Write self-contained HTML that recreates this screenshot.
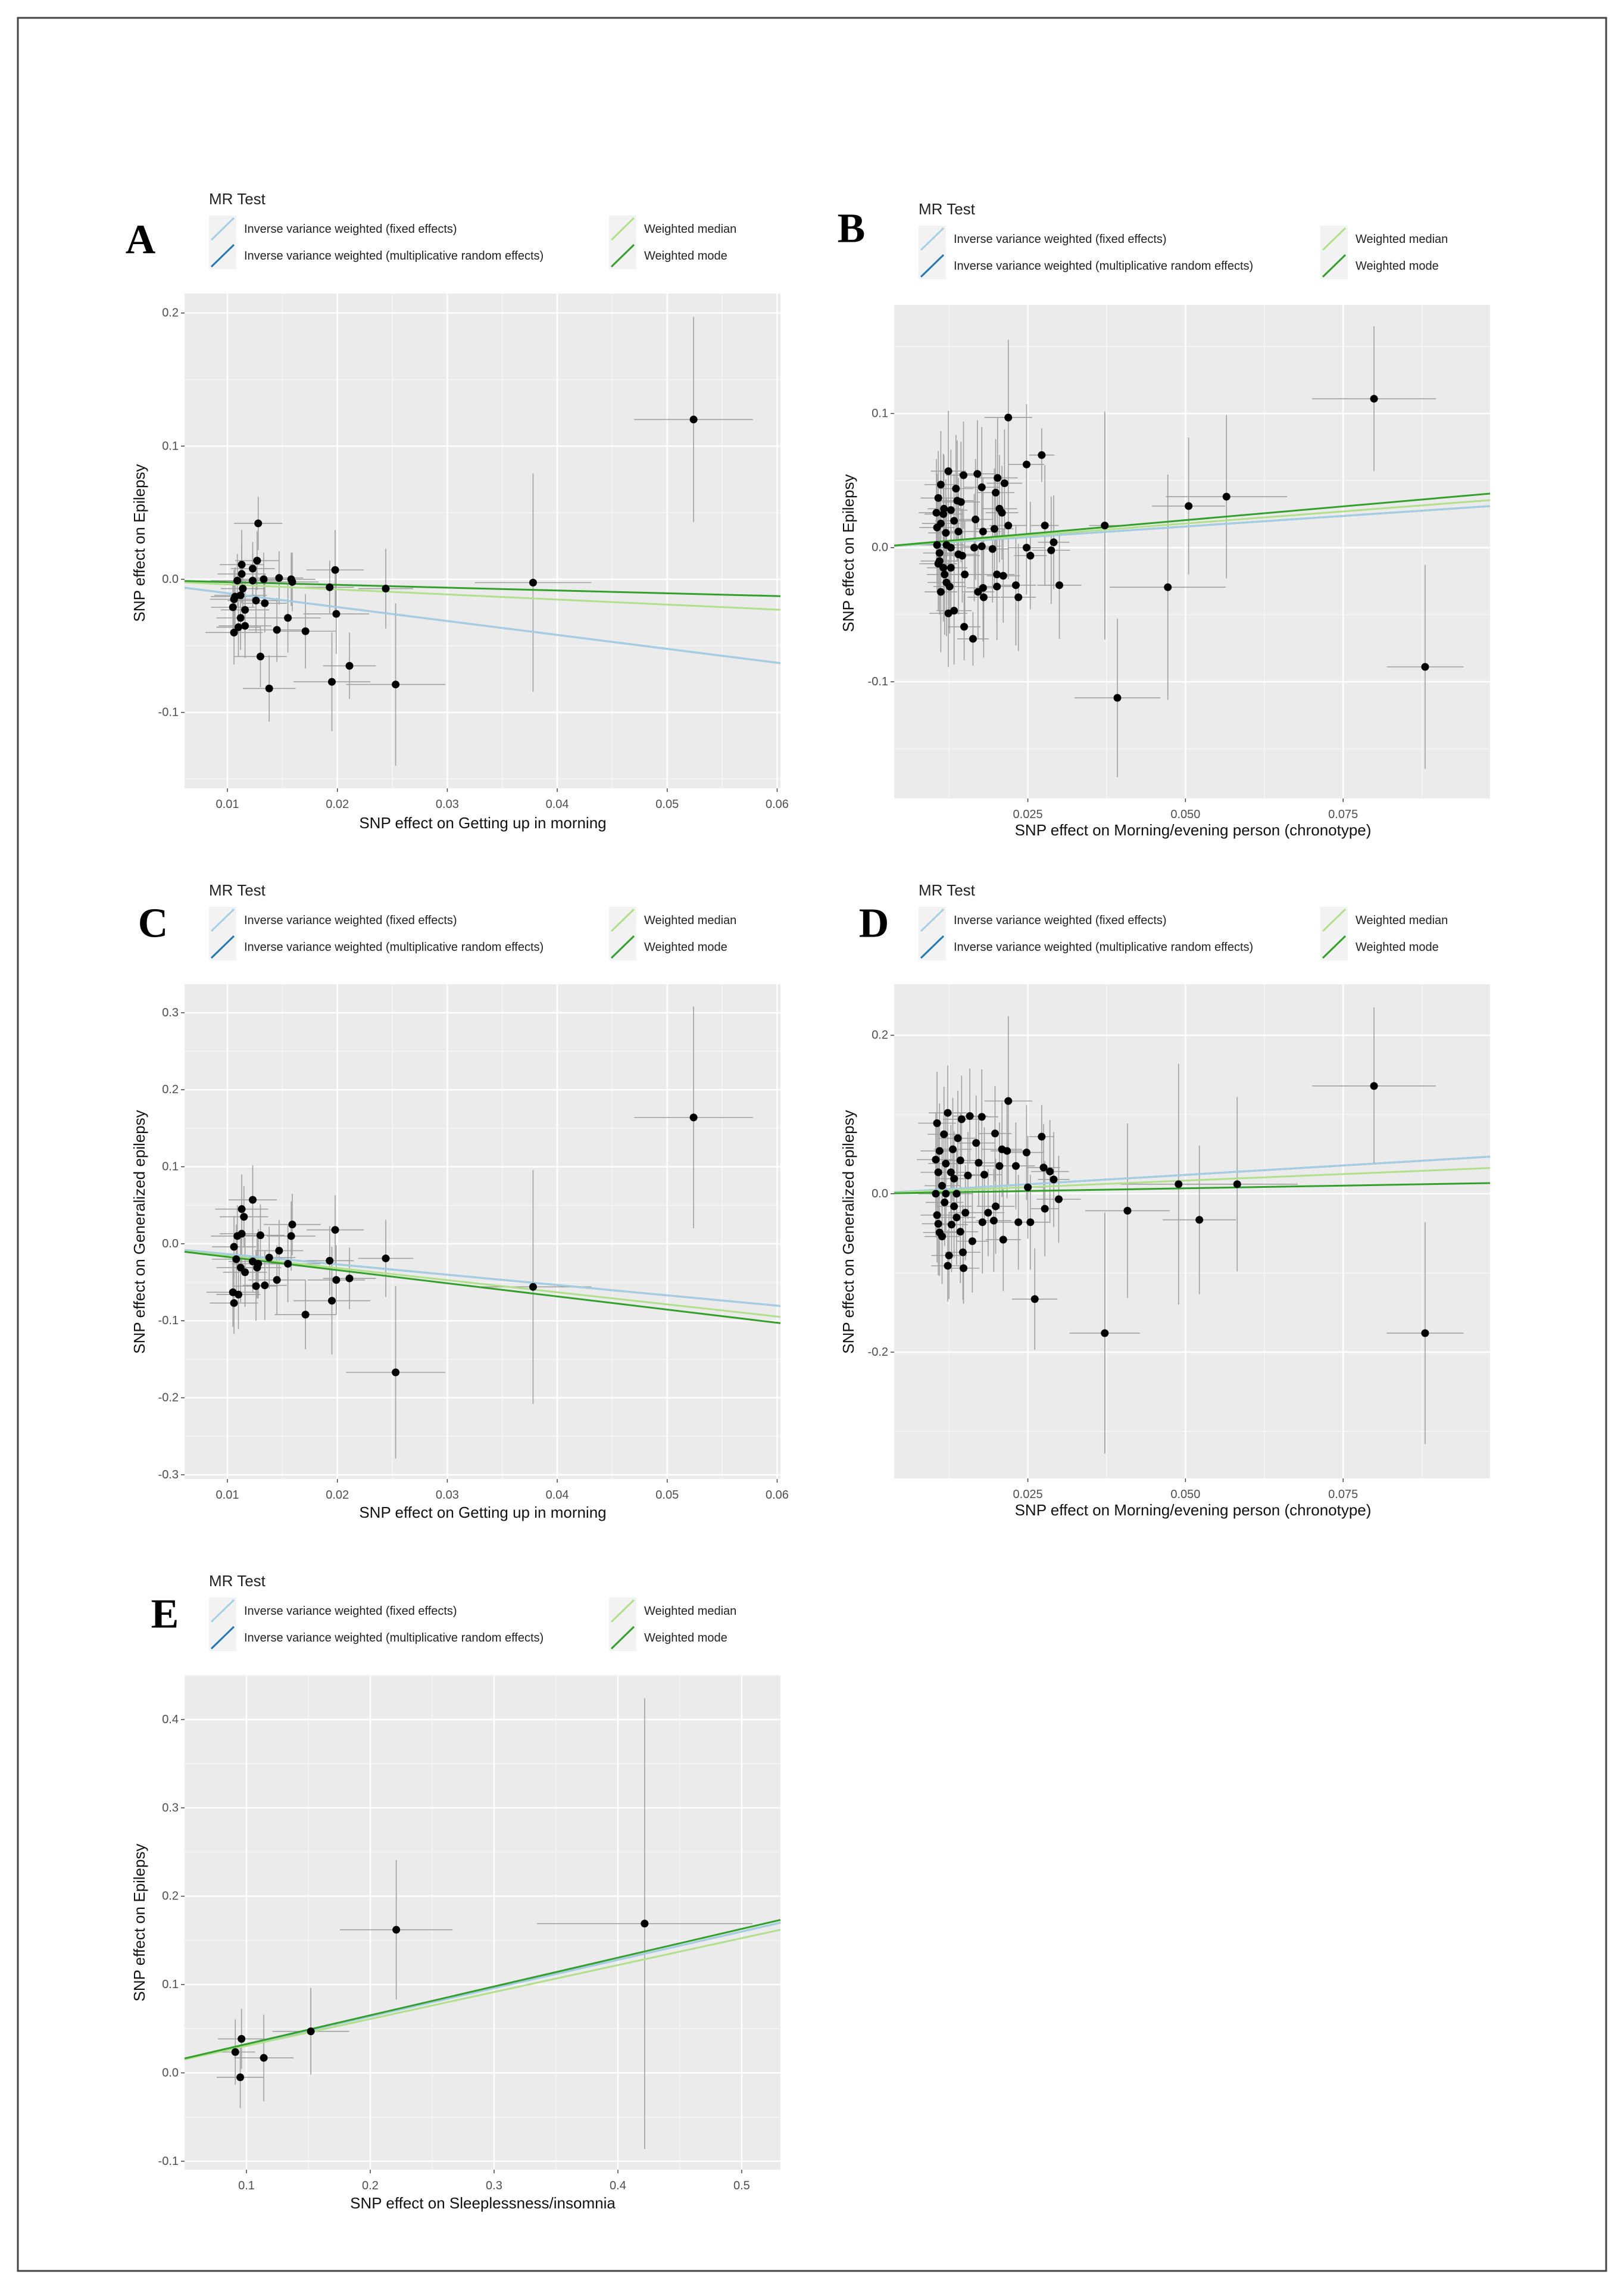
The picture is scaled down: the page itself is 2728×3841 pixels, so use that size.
<!DOCTYPE html>
<html><head><meta charset="utf-8"><title>MR scatter plots</title>
<style>
html,body{margin:0;padding:0;background:#fff;}
svg{display:block;}
text{font-family:"Liberation Sans",Arial,sans-serif;}
</style></head>
<body>
<svg id="fig" width="2728" height="3841" viewBox="0 0 2728 3841" xmlns="http://www.w3.org/2000/svg">
<rect x="0" y="0" width="2728" height="3841" fill="#fff"/>
<rect x="30" y="30" width="2668" height="3784" fill="none" stroke="#444" stroke-width="3"/>
</svg>
<script>
// ---------- Panel A data ----------
const aX=[0.0524,0.0378,0.0253,0.0244,0.0211,0.0195,0.0199,0.0198,0.0193,0.0171,0.0159,0.0158,0.0155,0.0147,0.0145,0.0138,0.0134,0.0133,0.0130,0.0128,0.0127,0.0126,0.0123,0.0123,0.0116,0.0116,0.0113,0.0113,0.0114,0.0112,0.0112,0.0110,0.0109,0.0107,0.0106,0.0105,0.0106];
const aY=[0.120,-0.0025,-0.079,-0.007,-0.065,-0.077,-0.026,0.007,-0.006,-0.039,-0.002,0.000,-0.029,0.001,-0.038,-0.082,-0.018,0.000,-0.058,0.042,0.014,-0.016,-0.001,0.008,-0.023,-0.035,0.011,0.004,-0.007,-0.012,-0.029,-0.036,-0.001,-0.013,-0.040,-0.021,-0.015];
const aXe=[0.0054,0.0053,0.0045,0.0025,0.0024,0.0035,0.003,0.0026,0.0022,0.0028,0.0024,0.0022,0.0030,0.0022,0.0026,0.0024,0.0020,0.0022,0.0024,0.0022,0.0020,0.0026,0.0022,0.0020,0.0022,0.0024,0.0020,0.0022,0.0020,0.0024,0.0022,0.0020,0.0024,0.0022,0.0026,0.0020,0.0022];
const aYe=[0.077,0.082,0.061,0.030,0.025,0.037,0.030,0.030,0.020,0.028,0.022,0.020,0.026,0.020,0.024,0.025,0.022,0.020,0.023,0.020,0.022,0.024,0.020,0.020,0.022,0.024,0.026,0.022,0.020,0.022,0.024,0.022,0.020,0.022,0.024,0.020,0.022];
const aSlopes=[-1.045,-1.045,-0.38,-0.21];
const aXTicks=[0.01,0.02,0.03,0.04,0.05,0.06];
const aXTickLabels=["0.01","0.02","0.03","0.04","0.05","0.06"];
const aYTicks=[-0.1,0.0,0.1,0.2];
const aYTickLabels=["-0.1","0.0","0.1","0.2"];

// ---------- Panel B data ----------
const bX=[0.0799,0.0880,0.0392,0.0472,0.0505,0.0565,0.0372,0.0219,0.0272,0.0248,0.0300,0.0291,0.0287,0.0277,0.0254,0.0248,0.0235,0.0231,0.0219,0.0211,0.0213,0.0202,0.0199,0.0209,0.0205,0.0197,0.0194,0.0201,0.0201,0.0180,0.0179,0.0177,0.0179,0.0177,0.0170,0.0171,0.0163,0.0167,0.0165,0.0149,0.0148,0.0144,0.0150,0.0146,0.0140,0.0138,0.0136,0.0133,0.0128,0.0124,0.0124,0.0126,0.0120,0.0116,0.0112,0.0108,0.0110,0.0112,0.0106,0.0106,0.0110,0.0118,0.0121,0.0128,0.0133,0.0140,0.0117,0.0121,0.0112,0.0128,0.0105,0.0108,0.0116];
const bY=[0.111,-0.0889,-0.112,-0.0295,0.031,0.038,0.0165,0.097,0.069,0.062,-0.028,0.004,-0.002,0.0165,-0.006,0.000,-0.037,-0.028,0.0165,-0.021,0.048,0.052,0.041,0.026,0.029,0.014,-0.001,-0.020,-0.029,-0.037,0.012,0.001,-0.030,0.045,0.055,-0.033,-0.068,0.021,0.000,-0.059,0.054,0.034,-0.020,-0.006,0.012,0.035,0.044,0.020,0.000,0.057,-0.049,-0.029,0.011,0.025,0.047,0.037,-0.010,-0.033,0.015,0.002,-0.004,-0.020,-0.026,-0.015,-0.047,-0.005,0.029,0.002,0.018,0.028,0.026,-0.012,-0.015];
const bXe=[0.0098,0.0061,0.0068,0.0092,0.0058,0.0096,0.0025,0.0038,0.0020,0.0028,0.0035,0.0025,0.0030,0.0022,0.0026,0.0030,0.0028,0.0032,0.0030,0.0026,0.0028,0.0032,0.0030,0.0026,0.0028,0.0030,0.0026,0.0028,0.0030,0.0026,0.0028,0.0030,0.0026,0.0028,0.0030,0.0026,0.0025,0.0028,0.0030,0.0026,0.0028,0.0030,0.0026,0.0028,0.0030,0.0026,0.0028,0.0030,0.0026,0.0028,0.0030,0.0026,0.0028,0.0030,0.0026,0.0028,0.0030,0.0026,0.0028,0.0030,0.0026,0.0028,0.0030,0.0026,0.0028,0.0030,0.0026,0.0028,0.0030,0.0026,0.0028,0.0030,0.0026];
const bYe=[0.054,0.076,0.059,0.084,0.051,0.061,0.085,0.058,0.020,0.045,0.040,0.035,0.040,0.045,0.040,0.035,0.040,0.045,0.040,0.035,0.040,0.045,0.040,0.035,0.040,0.045,0.040,0.035,0.040,0.045,0.040,0.035,0.040,0.045,0.040,0.035,0.020,0.045,0.040,0.025,0.040,0.045,0.040,0.035,0.040,0.045,0.040,0.035,0.040,0.045,0.040,0.035,0.040,0.045,0.040,0.035,0.040,0.045,0.040,0.035,0.040,0.045,0.040,0.035,0.040,0.045,0.040,0.035,0.040,0.045,0.040,0.035,0.040];
const bSlopes=[0.315,0.315,0.36,0.41];
const bXTicks=[0.025,0.050,0.075];
const bXTickLabels=["0.025","0.050","0.075"];
const bYTicks=[-0.1,0.0,0.1];
const bYTickLabels=["-0.1","0.0","0.1"];

// ---------- Panel C data ----------
const cX=[0.0524,0.0378,0.0253,0.0244,0.0211,0.0199,0.0198,0.0195,0.0193,0.0171,0.0159,0.0158,0.0155,0.0147,0.0145,0.0138,0.0134,0.0130,0.0128,0.0127,0.0126,0.0123,0.0123,0.0116,0.0115,0.0113,0.0113,0.0112,0.0110,0.0109,0.0108,0.0106,0.0105,0.0106];
const cY=[0.164,-0.056,-0.167,-0.019,-0.045,-0.047,0.018,-0.074,-0.022,-0.092,0.025,0.010,-0.026,-0.009,-0.047,-0.018,-0.054,0.011,-0.026,-0.031,-0.055,0.057,-0.023,-0.037,0.035,0.045,0.013,-0.031,-0.066,0.010,-0.020,-0.004,-0.063,-0.077];
const cXe=[0.0054,0.0053,0.0045,0.0025,0.0024,0.0026,0.0026,0.0035,0.0022,0.0028,0.0026,0.0022,0.0030,0.0022,0.0026,0.0024,0.0020,0.0022,0.0024,0.0022,0.0020,0.0022,0.0022,0.0020,0.0022,0.0024,0.0020,0.0022,0.0020,0.0024,0.0022,0.0020,0.0024,0.0022];
const cYe=[0.144,0.152,0.112,0.050,0.040,0.045,0.045,0.070,0.045,0.045,0.040,0.045,0.050,0.040,0.045,0.040,0.045,0.040,0.045,0.040,0.045,0.045,0.040,0.045,0.040,0.045,0.040,0.045,0.045,0.040,0.045,0.040,0.045,0.040];
const cSlopes=[-1.34,-1.34,-1.575,-1.71];
const cXTicks=[0.01,0.02,0.03,0.04,0.05,0.06];
const cXTickLabels=["0.01","0.02","0.03","0.04","0.05","0.06"];
const cYTicks=[-0.3,-0.2,-0.1,0.0,0.1,0.2,0.3];
const cYTickLabels=["-0.3","-0.2","-0.1","0.0","0.1","0.2","0.3"];

// ---------- Panel D data ----------
const dX=[0.0799,0.0880,0.0372,0.0408,0.0489,0.0522,0.0582,0.0261,0.0219,0.0272,0.0248,0.0299,0.0291,0.0285,0.0277,0.0275,0.0254,0.0250,0.0235,0.0231,0.0217,0.0211,0.0209,0.0205,0.0198,0.0196,0.0199,0.0187,0.0181,0.0178,0.0177,0.0172,0.0168,0.0162,0.0158,0.0155,0.0151,0.0148,0.0147,0.0145,0.0143,0.0143,0.0139,0.0137,0.0133,0.0131,0.0129,0.0125,0.0123,0.0123,0.0120,0.0118,0.0117,0.0114,0.0110,0.0110,0.0108,0.0106,0.0106,0.0104,0.0104,0.0108,0.0114,0.0120,0.0128,0.0133,0.0137];
const dY=[0.136,-0.176,-0.176,-0.0215,0.012,-0.033,0.012,-0.133,0.117,0.072,0.052,-0.007,0.018,0.028,-0.019,0.033,-0.036,0.008,-0.036,0.035,0.054,-0.058,0.056,0.035,0.076,-0.034,-0.016,-0.024,0.024,-0.036,0.097,0.039,0.064,-0.060,0.098,0.023,-0.024,-0.094,-0.074,0.094,0.042,-0.048,0.070,0.000,0.019,0.056,-0.039,-0.078,0.102,-0.091,0.038,-0.011,0.075,0.010,0.054,-0.049,0.027,0.089,-0.027,0.000,0.043,-0.038,-0.054,0.000,0.027,-0.016,-0.030];
const dXe=[0.0098,0.0061,0.0056,0.0067,0.0092,0.0058,0.0096,0.0036,0.0038,0.0020,0.0028,0.0035,0.0025,0.0030,0.0022,0.0026,0.0030,0.0028,0.0032,0.0030,0.0026,0.0028,0.0032,0.0030,0.0026,0.0028,0.0030,0.0026,0.0028,0.0030,0.0026,0.0028,0.0030,0.0026,0.0028,0.0030,0.0026,0.0025,0.0028,0.0030,0.0026,0.0028,0.0030,0.0026,0.0028,0.0030,0.0026,0.0028,0.0030,0.0026,0.0028,0.0030,0.0026,0.0028,0.0030,0.0026,0.0028,0.0030,0.0026,0.0028,0.0030,0.0026,0.0028,0.0030,0.0026,0.0028,0.0030];
const dYe=[0.099,0.140,0.152,0.110,0.152,0.094,0.110,0.064,0.107,0.040,0.060,0.055,0.060,0.065,0.060,0.055,0.060,0.065,0.060,0.055,0.060,0.065,0.060,0.055,0.060,0.065,0.060,0.055,0.060,0.065,0.060,0.055,0.060,0.065,0.060,0.055,0.060,0.045,0.060,0.055,0.060,0.065,0.060,0.055,0.060,0.065,0.060,0.055,0.060,0.045,0.060,0.055,0.060,0.065,0.060,0.055,0.060,0.065,0.060,0.055,0.060,0.065,0.060,0.055,0.060,0.065,0.060];
const dSlopes=[0.475,0.475,0.33,0.136];
const dXTicks=[0.025,0.050,0.075];
const dXTickLabels=["0.025","0.050","0.075"];
const dYTicks=[-0.2,0.0,0.2];
const dYTickLabels=["-0.2","0.0","0.2"];

// ---------- Panel E data ----------
const eX=[0.4216,0.221,0.152,0.114,0.096,0.091,0.095];
const eY=[0.169,0.162,0.047,0.017,0.0385,0.0236,-0.005];
const eXe=[0.087,0.0455,0.031,0.024,0.019,0.016,0.019];
const eYe=[0.255,0.079,0.049,0.049,0.034,0.037,0.035];
const eSlopes=[0.32,0.32,0.305,0.326];
const eXTicks=[0.1,0.2,0.3,0.4,0.5];
const eXTickLabels=["0.1","0.2","0.3","0.4","0.5"];
const eYTicks=[-0.1,0.0,0.1,0.2,0.3,0.4];
const eYTickLabels=["-0.1","0.0","0.1","0.2","0.3","0.4"];

const methodNames=["Inverse variance weighted (fixed effects)","Inverse variance weighted (multiplicative random effects)","Weighted median","Weighted mode"];
const methodColors=["#a6cee3","#1f78b4","#b2df8a","#33a02c"];

const NS="http://www.w3.org/2000/svg";
const svg=document.getElementById('fig');
function mk(tag,attrs,parent){const e=document.createElementNS(NS,tag);for(const k in attrs)e.setAttribute(k,attrs[k]);(parent||svg).appendChild(e);return e;}

const panels=[
 {id:'a',letter:'A',lab:[236,403],leg:[351,334],legR:672,box:[310,493,1311,1324],xr:[0.0061,0.0603],yr:[-0.157,0.2146],
  X:aX,Y:aY,Xe:aXe,Ye:aYe,S:aSlopes,xt:aXTicks,xtl:aXTickLabels,yt:aYTicks,ytl:aYTickLabels,
  xtitle:"SNP effect on Getting up in morning",ytitle:"SNP effect on Epilepsy",xtp:[811,1382],ytp:[234,912]},
 {id:'b',letter:'B',lab:[1430,384],leg:[1543,351],legR:675,box:[1502,512,2503,1341],xr:[0.0038,0.0983],yr:[-0.187,0.181],
  X:bX,Y:bY,Xe:bXe,Ye:bYe,S:bSlopes,xt:bXTicks,xtl:bXTickLabels,yt:bYTicks,ytl:bYTickLabels,
  xtitle:"SNP effect on Morning/evening person (chronotype)",ytitle:"SNP effect on Epilepsy",xtp:[2004,1394],ytp:[1425,929]},
 {id:'c',letter:'C',lab:[257,1551],leg:[351,1495],legR:672,box:[310,1653,1311,2484],xr:[0.0061,0.0603],yr:[-0.3055,0.337],
  X:cX,Y:cY,Xe:cXe,Ye:cYe,S:cSlopes,xt:cXTicks,xtl:cXTickLabels,yt:cYTicks,ytl:cYTickLabels,
  xtitle:"SNP effect on Getting up in morning",ytitle:"SNP effect on Generalized epilepsy",xtp:[811,2540],ytp:[234,2069]},
 {id:'d',letter:'D',lab:[1468,1551],leg:[1543,1495],legR:675,box:[1502,1653,2503,2483],xr:[0.0038,0.0983],yr:[-0.3594,0.2644],
  X:dX,Y:dY,Xe:dXe,Ye:dYe,S:dSlopes,xt:dXTicks,xtl:dXTickLabels,yt:dYTicks,ytl:dYTickLabels,
  xtitle:"SNP effect on Morning/evening person (chronotype)",ytitle:"SNP effect on Generalized epilepsy",xtp:[2004,2536],ytp:[1425,2069]},
 {id:'e',letter:'E',lab:[277,2711],leg:[351,2655],legR:672,box:[310,2813,1311,3644],xr:[0.05,0.5313],yr:[-0.1096,0.4505],
  X:eX,Y:eY,Xe:eXe,Ye:eYe,S:eSlopes,xt:eXTicks,xtl:eXTickLabels,yt:eYTicks,ytl:eYTickLabels,
  xtitle:"SNP effect on Sleeplessness/insomnia",ytitle:"SNP effect on Epilepsy",xtp:[811,3700],ytp:[234,3229]}
];

panels.forEach(p=>{
  const [L,T,R,B]=p.box;
  const sx=v=>L+(v-p.xr[0])/(p.xr[1]-p.xr[0])*(R-L);
  const sy=v=>B-(v-p.yr[0])/(p.yr[1]-p.yr[0])*(B-T);
  const g=mk('g',{});
  
  

  // panel letter
  const lt=mk('text',{x:p.lab[0],y:p.lab[1],'text-anchor':'middle','dominant-baseline':'central','font-size':70,'font-weight':'bold',fill:'#000',style:'font-family:"Liberation Serif",serif'},g);
  lt.textContent=p.letter;
  
  

  // legend
  const lg=mk('g',{},g);
  
  
  const [lx,ly]=p.leg;
  const lti=mk('text',{x:lx,y:ly,'dominant-baseline':'central','font-size':26,fill:'#222'},lg);
  lti.textContent="MR Test";
  
  
  methodNames.forEach((nm,i)=>{
    const col=Math.floor(i/2), row=i%2;
    const kx=lx+col*p.legR, ky=ly+28+row*45;
    const entry=mk('g',{},lg);
    
    
    mk('rect',{x:kx,y:ky,width:46,height:45,fill:'#f2f2f2'},entry);
    mk('line',{x1:kx+4,y1:ky+41,x2:kx+42,y2:ky+4,stroke:methodColors[i],'stroke-width':3},entry);
    const t=mk('text',{x:kx+59,y:ky+23,'dominant-baseline':'central','font-size':20,fill:'#222'},entry);
    t.textContent=nm;
  });

  // background
  const bg=mk('rect',{x:L,y:T,width:R-L,height:B-T,fill:'#ebebeb'},g);
  
  

  // minor grid
  const xs=p.xt, ys=p.yt;
  const xstep=xs.length>1?xs[1]-xs[0]:0.1, ystep=ys.length>1?ys[1]-ys[0]:0.1;
  for(let v=xs[0]-xstep/2; v<=p.xr[1]; v+=xstep){ if(v>=p.xr[0]) mk('line',{x1:sx(v),x2:sx(v),y1:T,y2:B,stroke:'#f6f6f6','stroke-width':1.5},g); }
  for(let v=ys[0]-ystep/2; v<=p.yr[1]; v+=ystep){ if(v>=p.yr[0]) mk('line',{x1:L,x2:R,y1:sy(v),y2:sy(v),stroke:'#f6f6f6','stroke-width':1.5},g); }
  // major grid + ticks
  xs.forEach((v,i)=>{
    const X=sx(v);
    mk('line',{x1:X,x2:X,y1:T,y2:B,stroke:'#fff','stroke-width':2.5},g);
    mk('line',{x1:X,x2:X,y1:B,y2:B+6,stroke:'#444','stroke-width':1.5},g);
    const t=mk('text',{x:X,y:B+27,'text-anchor':'middle','dominant-baseline':'central','font-size':20,fill:'#4d4d4d'},g);
    t.textContent=p.xtl[i];
    
    
  });
  ys.forEach((v,i)=>{
    const Y=sy(v);
    mk('line',{x1:L,x2:R,y1:Y,y2:Y,stroke:'#fff','stroke-width':2.5},g);
    mk('line',{x1:L-6,x2:L,y1:Y,y2:Y,stroke:'#444','stroke-width':1.5},g);
    const t=mk('text',{x:L-10,y:Y,'text-anchor':'end','dominant-baseline':'central','font-size':20,fill:'#4d4d4d'},g);
    t.textContent=p.ytl[i];
    
    
  });

  // clip
  const cp=mk('clipPath',{id:'clip-'+p.id},g);
  mk('rect',{x:L,y:T,width:R-L,height:B-T},cp);
  const plot=mk('g',{'clip-path':'url(#clip-'+p.id+')'},g);

  // error bars
  p.X.forEach((x,i)=>{
    const y=p.Y[i];
    const eb=mk('g',{},plot);
    
    
    mk('line',{x1:sx(x-p.Xe[i]),x2:sx(x+p.Xe[i]),y1:sy(y),y2:sy(y),stroke:'#a0a0a0','stroke-width':1.6},eb);
    mk('line',{x1:sx(x),x2:sx(x),y1:sy(y-p.Ye[i]),y2:sy(y+p.Ye[i]),stroke:'#a0a0a0','stroke-width':1.6},eb);
  });
  // regression lines (drawn: random, fixed, median, mode)
  [1,0,2,3].forEach(k=>{
    const ln=mk('line',{x1:sx(p.xr[0]),y1:sy(p.S[k]*p.xr[0]),x2:sx(p.xr[1]),y2:sy(p.S[k]*p.xr[1]),stroke:methodColors[k],'stroke-width':3},plot);
    
    
  });
  // points
  p.X.forEach((x,i)=>{
    const c=mk('circle',{cx:sx(x),cy:sy(p.Y[i]),r:6.5,fill:'#000'},plot);
    
    
  });

  // axis titles
  const xt=mk('text',{x:p.xtp[0],y:p.xtp[1],'text-anchor':'middle','dominant-baseline':'central','font-size':26,fill:'#111'},g);
  xt.textContent=p.xtitle;
  
  
  const yt=mk('text',{x:p.ytp[0],y:p.ytp[1],'text-anchor':'middle','dominant-baseline':'central','font-size':26,fill:'#111',transform:'rotate(-90 '+p.ytp[0]+' '+p.ytp[1]+')'},g);
  yt.textContent=p.ytitle;
  
  
});
</script>
</body></html>
